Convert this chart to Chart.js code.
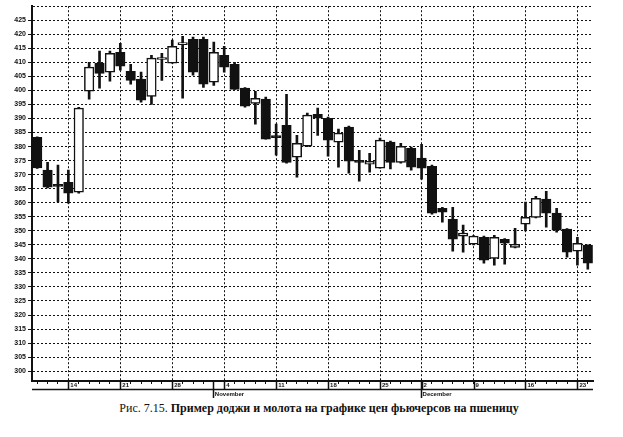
<!DOCTYPE html>
<html>
<head>
<meta charset="utf-8">
<script src="https://cdn.jsdelivr.net/npm/chart.js@4/dist/chart.umd.min.js"></script>
<style>
  html, body { margin: 0; padding: 0; background: #fff; }
  #wrap { position: relative; width: 623px; height: 437px; overflow: hidden; }
  #c { position: absolute; left: 0; top: 0; }
  #cap { position: absolute; left: 0; top: 400px; width: 638px; text-align: center;
         font-family: "Liberation Serif", "Times New Roman", serif; font-size: 12px; line-height: 16px; color: #111; }
  #cap b { font-weight: bold; }
</style>
</head>
<body>
<div id="wrap">
  <canvas id="c" width="623" height="400"></canvas>
  <div id="cap">Рис. 7.15. <b>Пример доджи и молота на графике цен фьючерсов на пшеницу</b></div>
</div>
<script>
// Trading days (month-day), Oct 9 – Dec 24
const dates = [
  '10-09','10-10','10-11','10-14','10-15','10-16','10-17','10-18','10-21','10-22','10-23','10-24','10-25',
  '10-28','10-29','10-30','10-31','11-01','11-04','11-05','11-06','11-07','11-08','11-11','11-12','11-13',
  '11-14','11-15','11-18','11-19','11-20','11-21','11-22','11-25','11-26','11-27','11-29','12-02','12-03',
  '12-04','12-05','12-06','12-09','12-10','12-11','12-12','12-13','12-16','12-17','12-18','12-19','12-20',
  '12-23','12-24'
];
const openP = [
  383.3,371.6,366.0,367.3,363.8,399.7,409.7,406.5,413.6,406.8,404.0,397.9,411.0,
  409.7,416.3,418.2,418.2,402.9,412.5,409.3,400.8,395.4,396.9,383.6,387.6,376.2,
  380.1,391.5,390.1,381.6,386.9,374.6,373.7,372.3,381.6,374.4,379.4,375.9,373.0,
  358.0,354.1,348.1,345.2,347.7,340.2,347.0,344.1,352.4,354.8,361.3,356.3,350.6,
  342.7,344.9
];
const highP = [
  383.5,374.4,373.4,371.6,394.0,410.0,414.0,414.0,416.8,409.3,406.5,412.5,413.2,
  417.9,419.3,419.0,419.0,417.2,415.7,410.0,401.0,399.7,397.6,388.0,398.6,384.0,
  391.9,393.7,390.5,386.2,387.3,378.7,377.6,383.0,382.0,381.2,379.8,380.8,373.4,
  358.4,358.4,352.0,348.3,348.1,348.4,347.2,350.9,360.2,362.3,364.1,358.0,350.8,
  347.7,345.0
];
const lowP = [
  372.2,365.3,360.3,359.8,363.4,396.9,400.8,403.3,407.2,402.2,395.8,395.0,403.6,
  409.7,397.2,405.4,401.1,401.8,406.5,400.4,394.0,388.0,382.6,376.9,374.1,369.1,
  380.0,384.0,376.6,372.7,370.5,367.7,370.9,372.3,372.0,374.1,371.6,368.4,355.9,
  353.1,342.7,342.4,345.0,338.5,337.8,338.1,343.9,350.0,354.6,351.3,349.5,340.6,
  337.8,336.3
];
const closeP = [
  372.4,365.5,365.8,363.4,393.7,408.3,406.1,413.2,408.6,403.6,396.5,411.5,411.2,
  415.7,416.5,406.5,402.2,413.6,408.3,400.4,394.4,397.2,382.6,383.2,374.4,381.2,
  391.2,390.1,382.3,384.8,374.8,374.4,374.7,382.3,374.4,380.1,372.7,372.3,356.3,
  356.6,347.0,349.2,348.1,339.5,347.7,345.6,345.2,354.8,361.6,356.3,350.2,342.4,
  345.5,338.5
];
// Week-start (Monday) tick labels and month markers
const weekTicks = ['10-14','10-21','10-28','11-04','11-11','11-18','11-25','12-02','12-09','12-16','12-23'];
const monthMarks = [['11-01','November'], ['12-02','December']];
const yMin = 296.5, yMax = 430, yStep = 5;

const INK = '#111';
const wickData = dates.map((d, i) => [lowP[i], highP[i]]);
const bodyData = dates.map((d, i) => [Math.min(openP[i], closeP[i]), Math.max(openP[i], closeP[i])]);
const bodyFill = dates.map((d, i) => closeP[i] >= openP[i] ? '#ffffff' : INK);

const axisDecor = {
  id: 'axisDecor',
  afterDraw(chart) {
    const xs = chart.scales.x, ctx = chart.ctx;
    const y0 = xs.top;
    ctx.save();
    ctx.strokeStyle = INK;
    ctx.lineWidth = 1.5;
    ctx.beginPath();
    ctx.moveTo(xs.left, y0 + 8.5); ctx.lineTo(xs.right, y0 + 8.5);
    weekTicks.forEach(d => {
      const x = Math.round(xs.getPixelForValue(dates.indexOf(d))) + 0.5;
      ctx.moveTo(x, y0); ctx.lineTo(x, y0 + 8.5);
    });
    monthMarks.forEach(([d]) => {
      const x = Math.round(xs.getPixelForValue(dates.indexOf(d))) - 0.5;
      ctx.moveTo(x, y0); ctx.lineTo(x, y0 + 17);
    });
    ctx.stroke();
    ctx.fillStyle = INK;
    ctx.font = 'bold 6px "Liberation Sans", Arial, sans-serif';
    ctx.textBaseline = 'middle';
    ctx.textAlign = 'left';
    monthMarks.forEach(([d, name]) => {
      const x = xs.getPixelForValue(dates.indexOf(d));
      ctx.fillText(name, x + 1, y0 + 13);
    });
    ctx.restore();
  }
};

new Chart(document.getElementById('c'), {
  type: 'bar',
  data: {
    labels: dates,
    datasets: [
      {
        label: 'body',
        data: bodyData,
        grouped: false,
        barThickness: 9.5,
        backgroundColor: bodyFill,
        borderColor: INK,
        borderWidth: 1.5,
        borderSkipped: false,
        minBarLength: 2
      },
      {
        label: 'wick',
        data: wickData,
        grouped: false,
        barThickness: 2,
        backgroundColor: INK,
        borderWidth: 0
      }
    ]
  },
  options: {
    responsive: false,
    animation: false,
    events: [],
    layout: { padding: { top: 6, right: 30, bottom: 0, left: 0 } },
    plugins: { legend: { display: false }, tooltip: { enabled: false }, title: { display: false } },
    scales: {
      x: {
        type: 'category',
        offset: true,
        afterFit(scale) { scale.height = 19; },
        grid: {
          offset: false,
          color: ctx => weekTicks.includes(dates[ctx.index]) ? INK : 'rgba(0,0,0,0)',
          lineWidth: 1,
          tickColor: INK,
          tickWidth: 1,
          tickLength: 3,
          drawTicks: true
        },
        border: { display: true, color: INK, width: 2, dash: [2, 2] },
        ticks: {
          autoSkip: false,
          maxRotation: 0,
          minRotation: 0,
          align: 'start',
          labelOffset: 2,
          padding: -2,
          color: INK,
          font: { family: '"Liberation Sans", Arial, sans-serif', size: 6, weight: 'bold' },
          callback: (v, i) => weekTicks.includes(dates[i]) ? String(parseInt(dates[i].slice(3), 10)) : ''
        }
      },
      y: {
        type: 'linear',
        min: yMin,
        max: yMax,
        afterFit(scale) { scale.width = 32; },
        grid: {
          color: ctx => (ctx.tick && ctx.tick.value % 5 === 0) ? INK : 'rgba(0,0,0,0)',
          tickColor: ctx => (ctx.tick && ctx.tick.value % 5 === 0 && ctx.tick.value !== yMax) ? INK : 'rgba(0,0,0,0)',
          lineWidth: 1,
          tickWidth: 1,
          tickLength: 4
        },
        border: { display: true, color: INK, width: 2, dash: [2, 2] },
        ticks: {
          stepSize: yStep,
          padding: 2,
          color: INK,
          font: { family: '"Liberation Sans", Arial, sans-serif', size: 7, weight: 'bold' },
          callback: v => (v % 5 === 0 && v !== yMax) ? String(v) : ''
        }
      }
    }
  },
  plugins: [axisDecor]
});
</script>
</body>
</html>
